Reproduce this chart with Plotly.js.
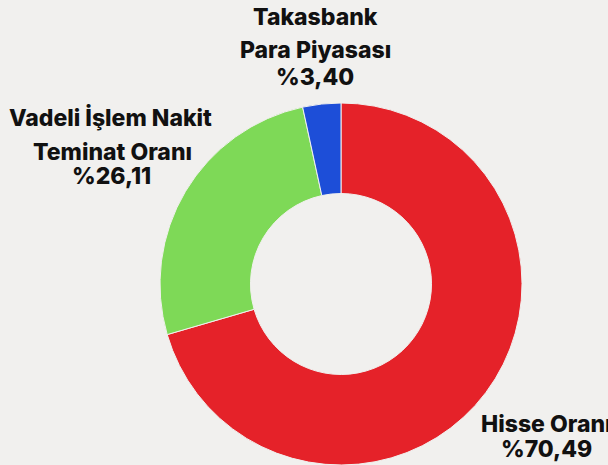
<!DOCTYPE html>
<html><head><meta charset="utf-8">
<script src="https://cdn.plot.ly/plotly-3.0.1.min.js"></script>
<style>html,body{margin:0;padding:0;background:#f1f0ee;}</style>
</head><body><div id="chart" style="width:608px;height:465px;"></div>
<script>
const labels = ["Hisse Oranı", "Vadeli İşlem Nakit Teminat Oranı", "Takasbank Para Piyasası"];
const values = [70.49, 26.11, 3.40];
const valueLabels = ["%70,49", "%26,11", "%3,40"];
const colors = ["#e52229", "#7ed957", "#1d4ed8"];

const W = 608, H = 465;
const font = {family: "Inter, 'Open Sans', sans-serif", size: 23, weight: 800, color: "#111111"};
function ann(text, px, py) {
  return {text: text, x: px / W, y: 1 - py / H, xref: "paper", yref: "paper",
          xanchor: "center", yanchor: "middle", showarrow: false, font: font};
}
const annotations = [
  ann("Takasbank", 315, 17), ann("Para Piyasası", 315, 50), ann(valueLabels[2], 315, 77),
  ann("Vadeli İşlem Nakit", 110, 118), ann("Teminat Oranı", 112, 152), ann(valueLabels[1], 111, 176),
  ann("Hisse Oranı", 546, 424), ann(valueLabels[0], 546, 449)
];

Plotly.newPlot("chart", [{
  type: "pie", labels: labels, values: values, hole: 0.5, sort: false,
  direction: "clockwise", rotation: 0, textinfo: "none", hoverinfo: "none",
  marker: {colors: colors, line: {color: "#f1f0ee", width: 1}},
  domain: {x: [159 / W, 523 / W], y: [0, 1 - 103 / H]}
}], {
  width: W, height: H, margin: {l: 0, r: 0, t: 0, b: 0},
  paper_bgcolor: "#f1f0ee", plot_bgcolor: "#f1f0ee", showlegend: false,
  annotations: annotations
}, {displayModeBar: false, staticPlot: true});
</script></body></html>
